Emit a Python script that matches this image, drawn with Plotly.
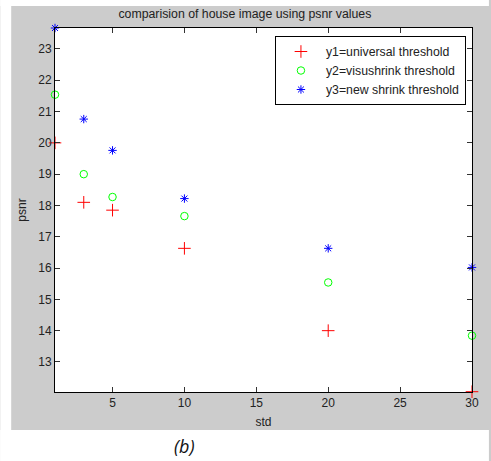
import plotly.graph_objects as go

std = [1, 3, 5, 10, 20, 30]
y1_universal = [20.0, 18.1, 17.85, 16.63, 14.0, 12.05]
y2_visushrink = [21.54, 19.0, 18.27, 17.66, 15.54, 13.84]
y3_newshrink = [23.67, 20.76, 19.76, 18.22, 16.63, 16.02]

x_ticks = [5, 10, 15, 20, 25, 30]
y_ticks = [13, 14, 15, 16, 17, 18, 19, 20, 21, 22, 23]

W, H = 491, 461
L, R, T, B = 55, 17, 28, 69
pw, ph = W - L - R, H - T - B

def px(xp):
    return (xp - L) / pw

def py(yp):
    return (H - B - yp) / ph

FONT = "Liberation Sans, Arial, sans-serif"
TXT = "#222222"

fig = go.Figure()
fig.add_trace(go.Scatter(x=std, y=y1_universal, mode="markers", name="y1=universal threshold",
                         marker=dict(symbol="cross-thin-open", size=9, color="#ff0000",
                                     line=dict(width=1, color="#ff0000")), cliponaxis=False))
fig.add_trace(go.Scatter(x=std, y=y2_visushrink, mode="markers", name="y2=visushrink threshold",
                         marker=dict(symbol="circle-open", size=7.5, color="#00ff00",
                                     line=dict(width=1, color="#00ff00")), cliponaxis=False))
fig.add_trace(go.Scatter(x=std, y=y3_newshrink, mode="markers", name="y3=new shrink threshold",
                         marker=dict(symbol="asterisk-open", size=7, color="#0000ff",
                                     line=dict(width=1, color="#0000ff")), cliponaxis=False))

axis_common = dict(showline=True, linecolor="black", linewidth=1, mirror="allticks",
                   ticks="inside", ticklen=5, tickcolor="#333333", showgrid=False, zeroline=False,
                   tickfont=dict(family=FONT, size=12, color=TXT))

fig.update_xaxes(range=[1, 30], tickvals=x_ticks, ticktext=[str(v) for v in x_ticks],
                 title=dict(text="std", font=dict(family=FONT, size=12, color=TXT), standoff=8),
                 **axis_common)
fig.update_yaxes(range=[12.04, 23.67], tickvals=y_ticks, ticktext=[str(v) for v in y_ticks],
                 title=dict(text="psnr", font=dict(family=FONT, size=12, color=TXT), standoff=9),
                 **axis_common)

shapes = [
    dict(type="rect", xref="paper", yref="paper", x0=px(0), x1=px(11), y0=py(H), y1=py(0),
         fillcolor="white", line=dict(width=0), layer="below"),
    dict(type="rect", xref="paper", yref="paper", x0=px(0), x1=px(W), y0=py(6), y1=py(0),
         fillcolor="white", line=dict(width=0), layer="below"),
    dict(type="rect", xref="paper", yref="paper", x0=px(0), x1=px(W), y0=py(H), y1=py(430),
         fillcolor="white", line=dict(width=0), layer="below"),
]

fig.update_layout(
    width=W, height=H,
    margin=dict(l=L, r=R, t=T, b=B),
    paper_bgcolor="#cccccc", plot_bgcolor="white",
    title=dict(text="comparision of house image using psnr values", x=px(264), xanchor="center",
               y=1 - 14 / H, yanchor="middle", yref="container",
               font=dict(family=FONT, size=12.3, color=TXT)),
    showlegend=True,
    legend=dict(x=px(276), y=py(36), xanchor="left", yanchor="top", bgcolor="white",
                bordercolor="black", borderwidth=1, itemwidth=40,
                font=dict(family=FONT, size=12.3, color=TXT), tracegroupgap=0),
    shapes=shapes,
    annotations=[dict(text="<i>(b)</i>", xref="paper", yref="paper", x=px(185), y=py(446),
                      xanchor="center", yanchor="middle", showarrow=False,
                      font=dict(family="Open Sans, sans-serif", size=18, color="#111111"))],
)

fig.write_html("out.html", config={"displayModeBar": False},
               post_script=("document.body.style.margin='0';"
                            "document.body.style.overflow='hidden';"
                            "document.documentElement.style.overflow='hidden';"
                            "document.body.style.background='linear-gradient(#ffffff 0px, #ffffff 6px, #cccccc 6px, #cccccc 430px, #ffffff 430px)';"))
